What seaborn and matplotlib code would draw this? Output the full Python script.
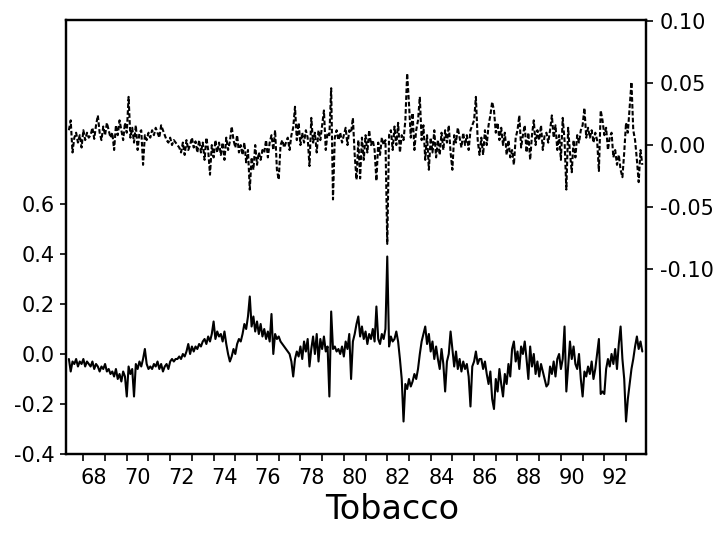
import matplotlib
matplotlib.use("Agg")
import matplotlib.pyplot as plt
import numpy as np
import pandas as pd
import seaborn as sns

# Monthly observations, twelve values per row, starting in May 1967
start_year = 1967 + 4 / 12

# Solid line, read against the left axis
solid_values = [
    -0.02, -0.07, -0.03, -0.04, -0.02, -0.05, -0.03, -0.04, -0.02, -0.05, -0.03, -0.04,
    -0.05, -0.03, -0.06, -0.04, -0.05, -0.07, -0.05, -0.06, -0.04, -0.07, -0.06, -0.08,
    -0.07, -0.09, -0.06, -0.10, -0.08, -0.11, -0.07, -0.09, -0.17, -0.05, -0.08, -0.06,
    -0.17, -0.04, -0.06, -0.03, -0.05, -0.02, 0.02, -0.04, -0.06, -0.05, -0.06, -0.04,
    -0.05, -0.03, -0.06, -0.04, -0.07, -0.05, -0.04, -0.06, -0.03, -0.02, -0.03, -0.02,
    -0.02, -0.01, -0.02, 0.00, -0.01, 0.01, 0.04, 0.00, 0.03, 0.01, 0.03, 0.02,
    0.04, 0.03, 0.05, 0.06, 0.04, 0.07, 0.05, 0.08, 0.13, 0.06, 0.09, 0.07,
    0.08, 0.05, 0.09, 0.04, 0.00, -0.03, -0.01, 0.02, 0.00, 0.04, 0.06, 0.05,
    0.08, 0.12, 0.10, 0.15, 0.23, 0.11, 0.15, 0.09, 0.13, 0.08, 0.12, 0.07,
    0.10, 0.06, 0.09, 0.05, 0.16, 0.00, 0.08, 0.06, 0.07, 0.05, 0.04, 0.03,
    0.02, 0.01, 0.00, -0.03, -0.09, -0.02, 0.01, -0.01, 0.03, -0.02, 0.05, 0.01,
    0.06, -0.05, 0.02, 0.07, 0.00, 0.08, -0.03, 0.06, 0.02, 0.07, 0.01, 0.03,
    -0.17, 0.17, 0.02, 0.03, 0.01, 0.02, 0.00, 0.03, -0.01, 0.05, 0.02, 0.08,
    -0.10, 0.05, 0.08, 0.12, 0.15, 0.07, 0.11, 0.06, 0.09, 0.04, 0.08, 0.06,
    0.10, 0.05, 0.19, 0.06, 0.04, 0.08, 0.06, 0.10, 0.39, 0.03, 0.07, 0.05,
    0.06, 0.09, 0.05, -0.02, -0.10, -0.27, -0.12, -0.14, -0.10, -0.13, -0.11, -0.08,
    -0.10, -0.06, 0.00, 0.05, 0.08, 0.11, 0.04, 0.08, 0.01, 0.05, -0.02, 0.03,
    -0.02, -0.06, 0.02, -0.04, -0.15, -0.03, 0.00, 0.09, 0.02, -0.05, 0.01, -0.06,
    -0.02, -0.07, -0.03, -0.06, -0.04, -0.09, -0.21, -0.05, -0.03, 0.01, -0.04, -0.02,
    -0.02, -0.06, -0.03, -0.08, -0.12, -0.07, -0.18, -0.22, -0.10, -0.15, -0.06, -0.12,
    -0.17, -0.08, -0.12, -0.04, -0.09, 0.02, 0.05, -0.03, 0.01, -0.06, 0.03, 0.00,
    0.05, -0.02, -0.10, 0.03, -0.05, 0.00, -0.08, -0.03, -0.09, -0.04, -0.07, -0.10,
    -0.13, -0.12, -0.05, -0.08, -0.03, -0.09, -0.02, 0.00, -0.06, -0.02, 0.11, -0.15,
    -0.05, 0.05, -0.02, 0.03, -0.04, -0.06, 0.00, -0.10, -0.17, -0.07, -0.09, -0.05,
    -0.08, -0.03, -0.10, -0.06, 0.00, 0.06, -0.16, -0.15, -0.16, -0.06, -0.02, -0.05,
    0.00, -0.04, 0.02, -0.06, 0.04, 0.11, -0.02, -0.10, -0.27, -0.18, -0.12, -0.06,
    -0.02, 0.03, 0.07, 0.02, 0.05, 0.01,
]

# Dashed line, read against the right axis
dashed_values = [
    0.012, 0.020, -0.006, 0.006, 0.010, 0.002, 0.008, -0.002, 0.012, 0.004, 0.010, 0.006,
    0.008, 0.014, 0.005, 0.016, 0.024, 0.010, 0.004, 0.015, 0.008, 0.018, 0.012, 0.006,
    0.010, -0.004, 0.016, 0.008, 0.020, 0.012, 0.004, 0.018, 0.010, 0.039, 0.006, 0.014,
    0.002, 0.016, -0.004, 0.010, 0.012, -0.016, 0.008, 0.004, 0.010, 0.006, 0.012, 0.008,
    0.014, 0.010, 0.006, 0.016, 0.012, 0.008, 0.004, 0.002, 0.006, 0.000, 0.004, 0.002,
    0.000, -0.002, -0.006, 0.002, -0.008, 0.004, -0.004, 0.000, 0.006, -0.002, 0.003, -0.006,
    0.004, -0.006, 0.002, -0.012, 0.006, -0.004, -0.024, 0.000, -0.010, 0.004, -0.006, 0.002,
    -0.008, 0.002, -0.012, 0.006, -0.004, 0.003, 0.015, 0.004, -0.002, 0.008, -0.006, 0.000,
    -0.008, 0.002, -0.014, -0.004, -0.036, -0.010, -0.020, 0.000, -0.016, -0.006, -0.012, -0.004,
    -0.006, 0.004, -0.010, 0.002, 0.008, -0.004, 0.012, -0.020, -0.028, 0.000, 0.004, -0.002,
    0.002, 0.006, -0.004, 0.008, 0.014, 0.031, 0.004, 0.018, 0.000, 0.010, 0.002, 0.012,
    0.006, -0.017, 0.022, 0.002, 0.010, -0.006, 0.012, 0.004, 0.016, 0.028, -0.004, 0.010,
    0.008, 0.046, -0.044, 0.006, 0.012, 0.004, 0.010, 0.002, 0.008, 0.014, 0.000, 0.012,
    0.010, 0.022, -0.008, -0.028, 0.004, -0.027, 0.006, -0.012, 0.008, -0.006, 0.012, 0.000,
    0.004, -0.004, -0.029, 0.002, -0.008, 0.006, 0.000, 0.004, -0.080, 0.008, 0.012, -0.004,
    0.015, 0.000, 0.018, -0.006, 0.008, 0.004, 0.020, 0.058, 0.034, 0.006, 0.026, -0.004,
    0.012, 0.020, 0.039, 0.004, 0.016, -0.012, 0.008, -0.020, 0.006, -0.006, 0.012, -0.010,
    0.004, -0.008, 0.010, -0.004, 0.012, 0.002, 0.016, -0.006, -0.020, 0.008, 0.002, 0.014,
    0.006, -0.002, 0.010, 0.000, 0.008, -0.004, 0.012, 0.016, 0.020, 0.039, 0.004, -0.008,
    0.006, -0.008, 0.012, 0.000, 0.016, 0.024, 0.035, 0.028, 0.010, 0.018, 0.004, 0.014,
    0.000, 0.010, -0.008, 0.004, -0.010, -0.004, -0.016, 0.006, 0.012, 0.024, -0.002, 0.008,
    0.016, -0.006, 0.010, -0.012, 0.008, 0.020, 0.000, 0.012, 0.004, 0.016, -0.004, 0.008,
    0.010, 0.002, 0.012, 0.024, 0.006, 0.016, -0.004, 0.008, -0.012, 0.022, 0.004, -0.036,
    0.014, -0.006, -0.022, 0.004, -0.010, 0.008, 0.002, 0.012, 0.016, 0.030, 0.006, 0.014,
    0.006, 0.012, 0.002, 0.010, 0.004, -0.021, 0.028, 0.020, 0.008, 0.014, -0.004, 0.006,
    0.010, -0.010, -0.004, -0.016, -0.008, -0.020, -0.026, -0.006, 0.018, 0.010, 0.030, 0.051,
    0.012, 0.004, -0.012, -0.030, -0.004, -0.016,
]

left_ticks = [-0.4, -0.2, 0.0, 0.2, 0.4, 0.6]
left_tick_labels = ["-0.4", "-0.2", "0.0", "0.2", "0.4", "0.6"]
right_ticks = [-0.10, -0.05, 0.00, 0.05, 0.10]
right_tick_labels = ["-0.10", "-0.05", "0.00", "0.05", "0.10"]
year_labels = ["68", "70", "72", "74", "76", "78", "80", "82", "84", "86", "88", "90", "92"]
x_title = "Tobacco"

solid_df = pd.DataFrame({
    "year": start_year + np.arange(len(solid_values)) / 12,
    "value": solid_values,
})
dashed_df = pd.DataFrame({
    "year": start_year + np.arange(len(dashed_values)) / 12,
    "value": dashed_values,
})

sns.set_style("white")
plt.rcParams["font.family"] = ["DejaVu Sans"]
plt.rcParams["text.color"] = "black"
plt.rcParams["xtick.color"] = "black"
plt.rcParams["ytick.color"] = "black"
plt.rcParams["axes.labelcolor"] = "black"

W, H = 720, 533
fig = plt.figure(figsize=(W / 100, H / 100), dpi=100)
x0, x1, y_top, y_bot = 66, 646, 20, 454
ax = fig.add_axes([x0 / W, 1 - y_bot / H, (x1 - x0) / W, (y_bot - y_top) / H])
ax2 = ax.twinx()

sns.lineplot(data=solid_df, x="year", y="value", ax=ax, color="black",
             linewidth=1.5, estimator=None)
sns.lineplot(data=dashed_df, x="year", y="value", ax=ax2, color="black",
             linewidth=1.5, estimator=None, linestyle=(0, (2.2, 1.1)))

ax.set_xlim(1967.2, 1993.92)
ax.set_ylim(-0.4, 1.336)
ax2.set_ylim(-0.250, 0.1012)

# Year boundaries carry the tick marks; labels sit mid-year
ax.set_xticks(np.arange(1968, 1994))
ax.set_xticklabels([""] * len(np.arange(1968, 1994)))
ax.set_xticks([1968.5 + 2 * i for i in range(len(year_labels))], minor=True)
ax.set_xticklabels(year_labels, minor=True)
ax.tick_params(axis="x", which="major", direction="out", length=5, width=1.2,
               bottom=True, top=False, color="black")
ax.tick_params(axis="x", which="minor", length=0, pad=10, labelsize=15,
               labelcolor="black")

ax.set_yticks(left_ticks)
ax.set_yticklabels(left_tick_labels)
ax.tick_params(axis="y", which="major", direction="out", length=4, width=1.2,
               left=True, right=False, labelsize=15, pad=4, color="black",
               labelcolor="black")

ax2.set_yticks(right_ticks)
ax2.set_yticklabels(right_tick_labels)
ax2.tick_params(axis="y", which="major", direction="out", length=5, width=1.2,
                right=True, left=False, labelsize=15, pad=5, color="black",
                labelcolor="black")

ax.set_ylabel("")
ax2.set_ylabel("")
ax2.set_xlabel("")
ax.set_xlabel(x_title, fontsize=24, color="black")
ax.xaxis.set_label_coords((392 - x0) / (x1 - x0), -0.09)

for a in (ax, ax2):
    for s in a.spines.values():
        s.set_visible(True)
        s.set_color("black")
        s.set_linewidth(1.6)

fig.savefig("out.png", dpi=100, facecolor="white")
